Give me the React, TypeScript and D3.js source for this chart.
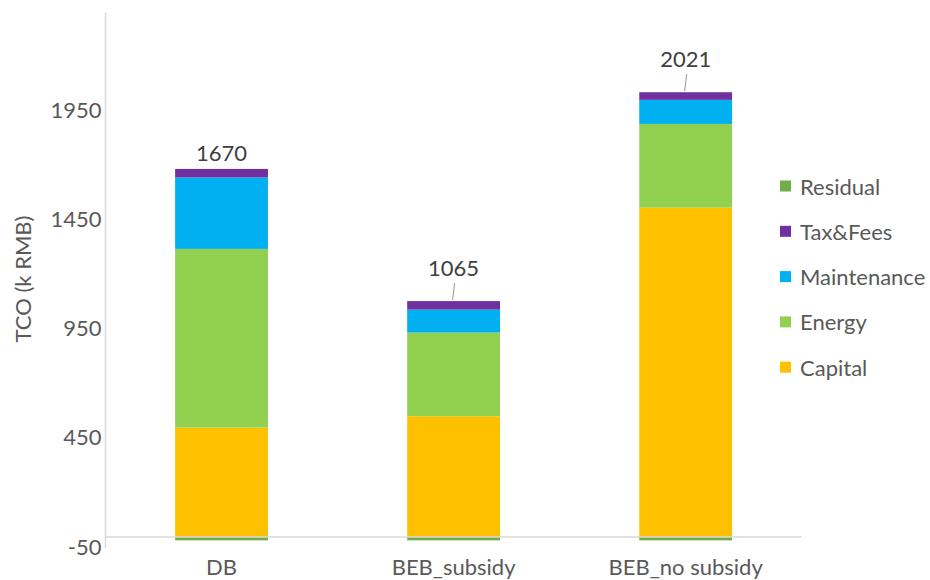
import React from "react";
import * as d3 from "d3";

const categories = ["DB", "BEB_subsidy", "BEB_no subsidy"];
const seriesNames = ["Capital", "Energy", "Maintenance", "Tax&Fees", "Residual"];
const capital = [501, 553, 1508];
const energy = [818, 383, 383];
const maintenance = [327, 105, 110];
const taxFees = [39, 39, 35];
const residual = [-15, -15, -15];
const totals = [1670, 1065, 2021];
const yTicks = [-50, 450, 950, 1450, 1950];
const legendOrder = ["Residual", "Tax&Fees", "Maintenance", "Energy", "Capital"];

const colors: Record<string, string> = {
  Capital: "#FFC000",
  Energy: "#92D050",
  Maintenance: "#00B0F0",
  "Tax&Fees": "#7030A0",
  Residual: "#70AD47",
};

const labelGap = [14, 32, 32];
const leader = [false, true, true];

const W = 930;
const H = 580;
const plot = { left: 105.5, right: 801.7, top: 12.7, bottom: 548 };
const FONT = "Lato, 'Open Sans', sans-serif";
const FS = 22;

export default function App() {
  const rows = categories.map((c, i) => ({
    cat: c,
    Capital: capital[i],
    Energy: energy[i],
    Maintenance: maintenance[i],
    "Tax&Fees": taxFees[i],
    Residual: residual[i],
  }));
  const stack = d3
    .stack<any>()
    .keys(seriesNames)
    .offset(d3.stackOffsetDiverging);
  const layers = stack(rows);

  const x = d3
    .scaleBand<string>()
    .domain(categories)
    .range([plot.left, plot.right])
    .paddingInner(0.6)
    .paddingOuter(0.3);
  const y = d3.scaleLinear().domain([-50, 2400]).range([plot.bottom, plot.top]);

  const tops = categories.map((_, i) =>
    d3.max(layers, (l) => l[i][1]) as number
  );

  return (
    <svg
      width={W}
      height={H}
      style={{ position: "absolute", left: 0, top: 0, background: "#fff" }}
      fontFamily={FONT}
    >
      {layers.map((layer) => (
        <g key={layer.key} fill={colors[layer.key]}>
          {layer.map((d, i) => (
            <rect
              key={i}
              x={x(categories[i])}
              width={x.bandwidth()}
              y={y(Math.max(d[0], d[1]))}
              height={Math.abs(y(d[0]) - y(d[1]))}
            />
          ))}
        </g>
      ))}
      <line
        x1={plot.left}
        x2={plot.left}
        y1={plot.top}
        y2={plot.bottom}
        stroke="#D9D9D9"
        strokeWidth={1.5}
      />
      <line
        x1={plot.left}
        x2={plot.right}
        y1={y(0)}
        y2={y(0)}
        stroke="#D9D9D9"
        strokeWidth={1.5}
      />
      {yTicks.map((t) => (
        <text
          key={t}
          x={plot.left - 4}
          y={y(t) - 2}
          textAnchor="end"
          dominantBaseline="central"
          fontSize={FS}
          fill="#595959"
        >
          {t}
        </text>
      ))}
      <text
        transform={`translate(22, 279) rotate(-90)`}
        textAnchor="middle"
        dominantBaseline="central"
        fontSize={FS}
        fill="#595959"
      >
        TCO (k RMB)
      </text>
      {categories.map((c) => (
        <text
          key={c}
          x={(x(c) as number) + x.bandwidth() / 2}
          y={566}
          textAnchor="middle"
          dominantBaseline="central"
          fontSize={FS}
          fill="#595959"
        >
          {c}
        </text>
      ))}
      {categories.map((c, i) => {
        const cx = (x(c) as number) + x.bandwidth() / 2;
        const yt = y(tops[i]);
        const ly = yt - labelGap[i];
        return (
          <g key={c}>
            {leader[i] && (
              <line
                x1={cx - 1}
                y1={yt - 1}
                x2={cx + 1}
                y2={ly + 14}
                stroke="#A6A6A6"
                strokeWidth={1.2}
              />
            )}
            <text
              x={cx}
              y={ly - 2}
              textAnchor="middle"
              dominantBaseline="central"
              fontSize={FS}
              fill="#404040"
            >
              {totals[i]}
            </text>
          </g>
        );
      })}
      {legendOrder.map((k, i) => {
        const ly = 186 + i * 45.3;
        return (
          <g key={k}>
            <rect x={780} y={ly - 5.5} width={11} height={11} fill={colors[k]} />
            <text
              x={800}
              y={ly}
              dominantBaseline="central"
              fontSize={FS}
              fill="#595959"
            >
              {k}
            </text>
          </g>
        );
      })}
    </svg>
  );
}
